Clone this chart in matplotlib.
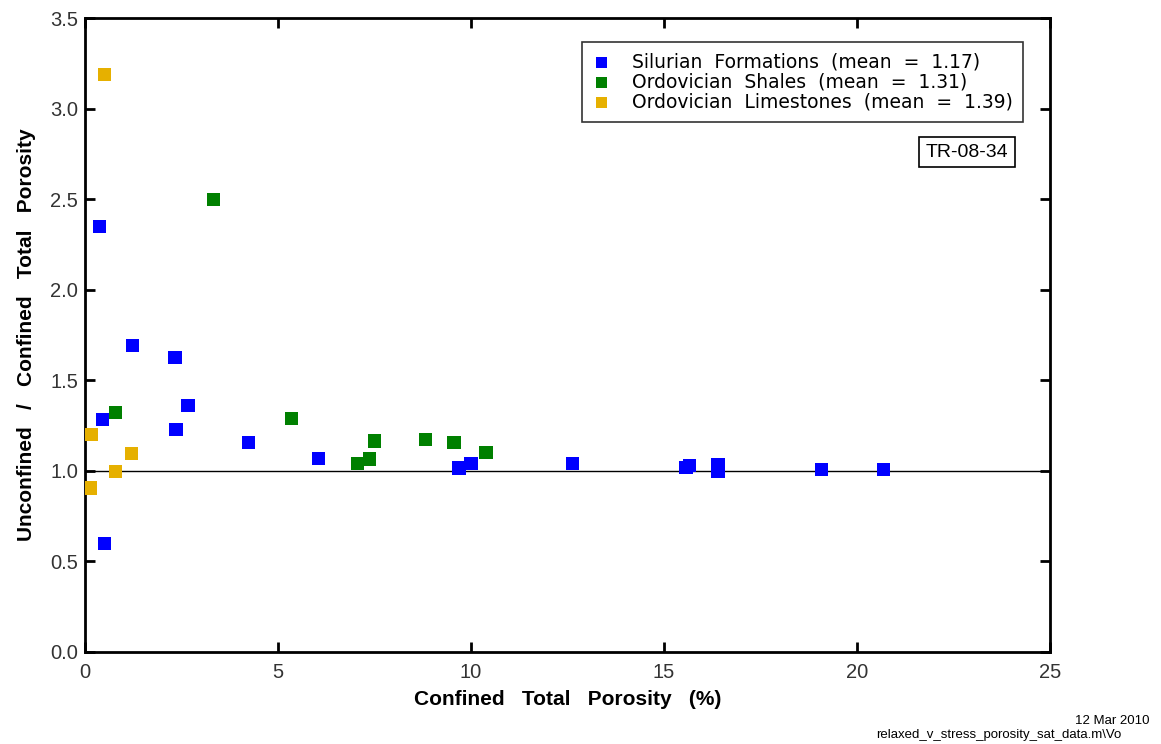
import matplotlib
matplotlib.use("Agg")
import matplotlib.pyplot as plt

plt.rcParams['font.family'] = ['Liberation Sans', 'DejaVu Sans']

# confined total porosity (%) vs ratio unconfined / confined
silurian_x = [0.37, 1.24, 2.33, 2.67, 0.46, 2.36, 4.23, 6.04, 0.50,
              9.69, 10.0, 12.64, 15.57, 15.67, 16.4, 16.4, 19.09, 20.69]
silurian_y = [2.35, 1.69, 1.625, 1.36, 1.285, 1.23, 1.155, 1.07, 0.60,
              1.016, 1.04, 1.04, 1.02, 1.03, 1.035, 0.997, 1.007, 1.007]

shales_x = [3.32, 0.80, 5.36, 7.07, 7.38, 7.49, 8.83, 9.56, 10.39]
shales_y = [2.50, 1.32, 1.29, 1.04, 1.065, 1.165, 1.175, 1.155, 1.10]

limestones_x = [0.50, 0.17, 1.21, 0.80, 0.13]
limestones_y = [3.19, 1.20, 1.095, 0.995, 0.905]

labels = ["Silurian  Formations  (mean  =  1.17)",
          "Ordovician  Shales  (mean  =  1.31)",
          "Ordovician  Limestones  (mean  =  1.39)"]
colors = ["#0000FF", "#008000", "#E6B000"]

fig = plt.figure(figsize=(11.61, 7.44), dpi=100)
ax = fig.add_axes([0.0732, 0.1237, 0.8312, 0.8521])

ax.axhline(1.0, color="black", lw=1.0, zorder=1)

for xs, ys, lab, c in zip([silurian_x, shales_x, limestones_x],
                          [silurian_y, shales_y, limestones_y],
                          labels, colors):
    ax.scatter(xs, ys, marker="s", s=90, color=c, edgecolors="none",
               label=lab, zorder=3)

ax.set_xlim(0, 25)
ax.set_ylim(0, 3.5)
ax.set_xticks([0, 5, 10, 15, 20, 25])
ax.set_yticks([0, 0.5, 1.0, 1.5, 2.0, 2.5, 3.0, 3.5])
ax.set_yticklabels(["0.0", "0.5", "1.0", "1.5", "2.0", "2.5", "3.0", "3.5"])
ax.tick_params(direction="in", length=7, width=2, labelsize=14.5,
               top=True, right=True, colors="black", labelcolor="#333333")
ax.tick_params(axis="x", pad=8)
ax.tick_params(axis="y", pad=5)
for sp in ax.spines.values():
    sp.set_linewidth(2)

ax.set_xlabel("Confined   Total   Porosity   (%)", fontsize=15,
              fontweight="bold", labelpad=6)
ax.set_ylabel("Unconfined   /   Confined   Total   Porosity", fontsize=15,
              fontweight="bold", labelpad=10)

leg = ax.legend(loc="upper right", bbox_to_anchor=(0.972, 0.962),
                prop={"family": "DejaVu Sans", "size": 13.5},
                frameon=True, fancybox=False,
                handlelength=1.0, handletextpad=1.1, borderpad=0.55,
                labelspacing=0.05, markerscale=0.85, borderaxespad=0)
leg.get_frame().set_edgecolor("black")
leg.get_frame().set_linewidth(1.2)

ax.text(0.9565, 0.7886, "TR-08-34", transform=ax.transAxes, fontsize=14,
        ha="right", va="center",
        bbox=dict(boxstyle="square,pad=0.35", fc="white", ec="black", lw=1.2))

# run stamp in the lower right corner
fig.text(1075 / 1161, 1 - 721 / 744, "12 Mar 2010", fontsize=9.5,
         ha="left", va="center")
fig.text(876 / 1161, 1 - 735 / 744, "relaxed_v_stress_porosity_sat_data.m\\Vo",
         fontsize=9.5, ha="left", va="center")

fig.savefig("out.png", dpi=100)
